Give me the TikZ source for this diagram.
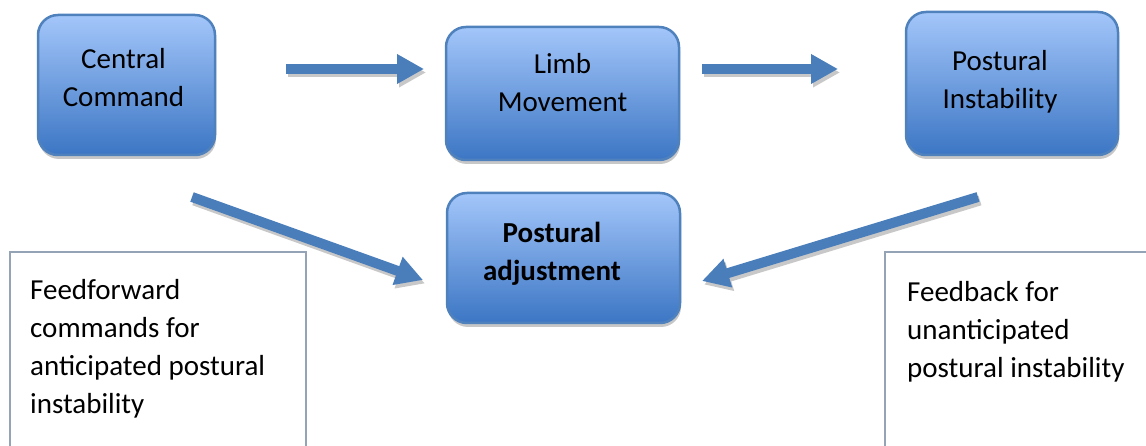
\documentclass[tikz,border=0pt]{standalone}
\usepackage{fontspec}
\setmainfont{Carlito}
\usetikzlibrary{positioning}
\usetikzlibrary{arrows.meta}
\usetikzlibrary{shadows}

\definecolor{boxtop}{RGB}{163,198,250}
\definecolor{boxbot}{RGB}{60,118,196}
\definecolor{boxedge}{RGB}{79,129,189}
\definecolor{arrowblue}{RGB}{74,126,187}
\definecolor{arrowshade}{RGB}{200,200,200}
\definecolor{frameline}{RGB}{149,163,182}

\begin{document}
\begin{tikzpicture}
	[	x=1pt, y=-1pt,				% 1 пиксель = 1 pt, ось y вниз
		font=\fontsize{29}{38}\selectfont,
		blok/.style={rectangle, rounded corners=20pt, draw=boxedge, line width=2.5pt,
			top color=boxtop, bottom color=boxbot,
			drop shadow={shadow xshift=1pt, shadow yshift=-4pt, fill=black, opacity=0.22}},
		nadpis/.style={align=center, inner sep=0pt},
		strelka/.style={draw=arrowblue, line width=10pt, -{Triangle[width=28pt,length=27pt]}},
		ten/.style={strelka, draw=arrowshade},
		ramka/.style={draw=frameline, line width=1.5pt},
		tekst/.style={align=left, inner sep=0pt, anchor=north west}	]
	\useasboundingbox (0,0) rectangle (1146,446);					% размер картинки
	% концы стрелок
	\coordinate (a1s) at (286,69);	\coordinate (a1e) at (424,69);
	\coordinate (a2s) at (702,69);	\coordinate (a2e) at (838,69);
	\coordinate (a3s) at (192,197);	\coordinate (a3e) at (423,280);
	\coordinate (a4s) at (978,197);	\coordinate (a4e) at (702,281);
	% тени стрелок
	\foreach \s/\e in {a1s/a1e,a2s/a2e,a3s/a3e,a4s/a4e}
		\draw[ten] ([xshift=2pt,yshift=-3.5pt]\s) -- ([xshift=2pt,yshift=-3.5pt]\e);
	% стрелки
	\foreach \s/\e in {a1s/a1e,a2s/a2e,a3s/a3e,a4s/a4e}
		\draw[strelka] (\s) -- (\e);
	% блоки
	\node[blok, minimum width=177pt, minimum height=140pt] (cc) at (126.5,85) {};
	\node[blok, minimum width=233pt, minimum height=133pt] (lm) at (562.5,93.5) {};
	\node[blok, minimum width=212pt, minimum height=143pt] (pi) at (1012,83.5) {};
	\node[blok, minimum width=233pt, minimum height=130pt] (pa) at (563.5,258) {};
	% подписи в блоках
	\node[nadpis] (cct) at ([xshift=-3pt,yshift=7.5pt]cc.center) {Central\\Command};
	\node[nadpis] (lmt) at ([yshift=10.5pt]lm.center) {Limb\\Movement};
	\node[nadpis] (pit) at ([xshift=-12pt,yshift=1.5pt]pi.center) {Postural\\Instability};
	\node[nadpis,font=\fontsize{29}{38}\selectfont\bfseries] (pat) at ([xshift=-11.5pt,yshift=4pt]pa.center) {Postural\\adjustment};
	% рамки с пояснениями
	\draw[ramka] (10,470) |- (306,252) -- (306,470);
	\draw[ramka] (885,470) |- (1160,252);
	\node[tekst] (ff) at (30,279) {Feedforward\\commands for\\anticipated postural\\instability};
	\node[tekst] (fb) at (907,281) {Feedback for\\unanticipated\\postural instability};
\end{tikzpicture}
\end{document}
